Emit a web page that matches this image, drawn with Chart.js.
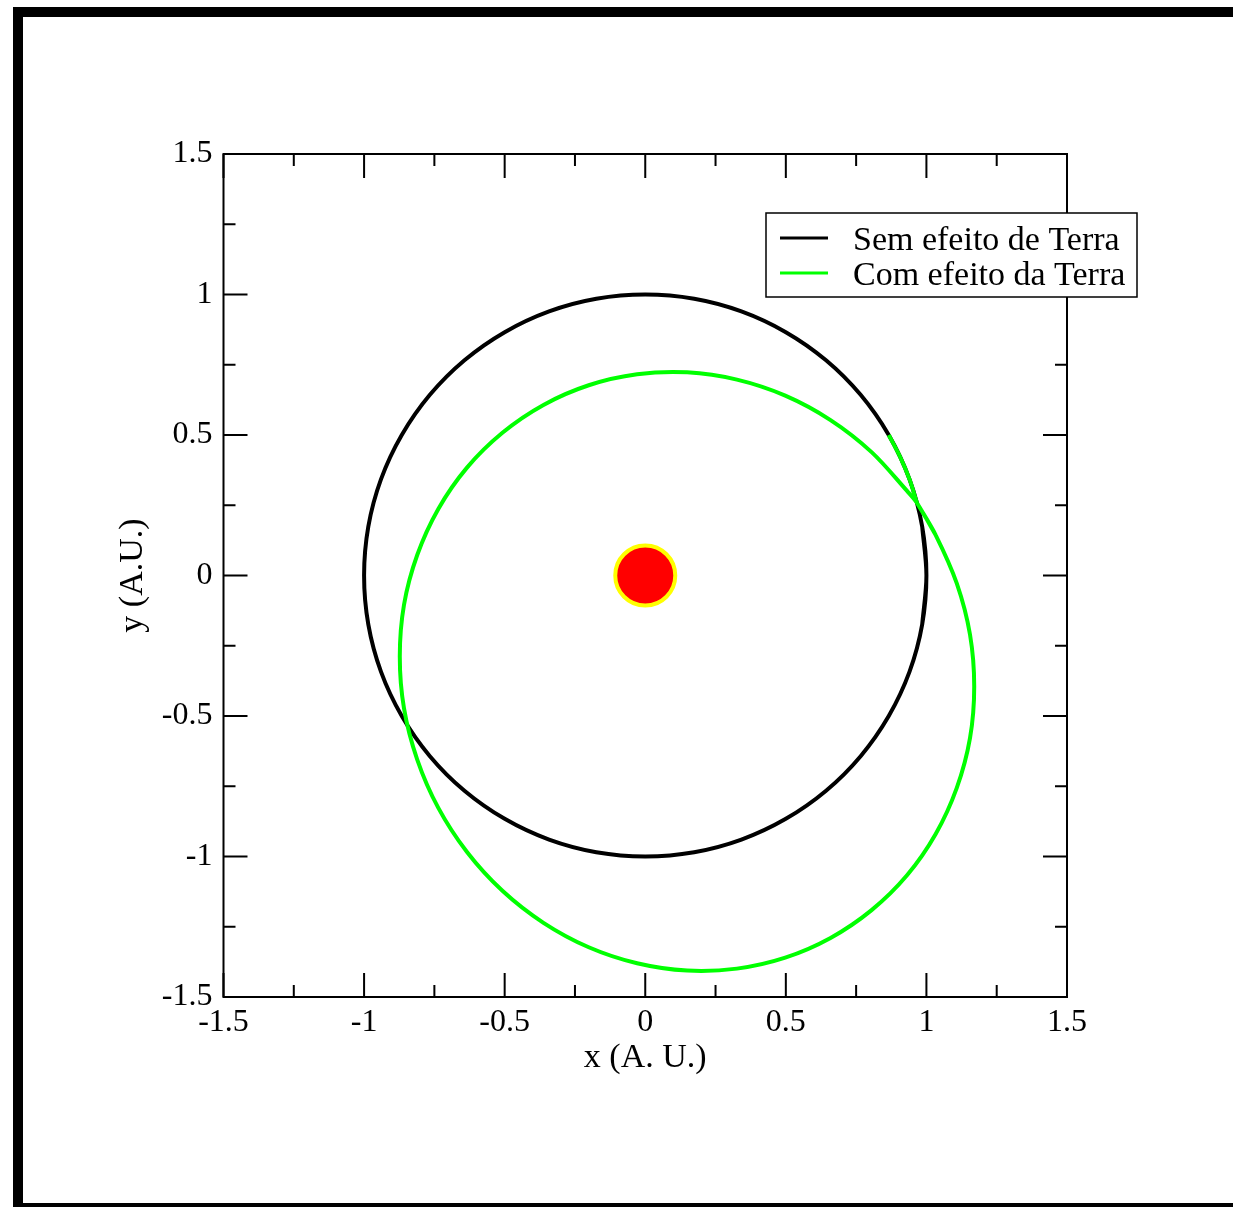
<!DOCTYPE html>
<html>
<head>
<meta charset="utf-8">
<script src="https://cdn.jsdelivr.net/npm/chart.js@4.4.0/dist/chart.umd.min.js"></script>
<style>
    html, body { margin: 0; padding: 0; background: #fff; overflow: hidden; }
    #frame { position: absolute; left: 13px; top: 7px; width: 1260px; height: 1206px; border: 10px solid #000; box-sizing: border-box; }
    #orbit-chart { position: absolute; left: 0; top: 0; }
</style>
</head>
<body>
<div id="frame"></div>
<canvas id="orbit-chart" width="1233" height="1207"></canvas>
<script>
// orbita sem efeito da Terra (circulo de raio 1 UA, um ponto a cada 10 graus, de 350 a 370 graus)
const semEfeitoX = [0.985, 1, 0.985, 0.940, 0.866, 0.766, 0.643, 0.5, 0.342, 0.174, 0, -0.174, -0.342, -0.5, -0.643, -0.766, -0.866, -0.940, -0.985,
    -1, -0.985, -0.940, -0.866, -0.766, -0.643, -0.5, -0.342, -0.174, 0, 0.174, 0.342, 0.5, 0.643, 0.766, 0.866, 0.940, 0.985, 1, 0.985];
const semEfeitoY = [-0.174, 0, 0.174, 0.342, 0.5, 0.643, 0.766, 0.866, 0.940, 0.985, 1, 0.985, 0.940, 0.866, 0.766, 0.643, 0.5, 0.342, 0.174,
    0, -0.174, -0.342, -0.5, -0.643, -0.766, -0.866, -0.940, -0.985, -1, -0.985, -0.940, -0.866, -0.766, -0.643, -0.5, -0.342, -0.174, 0, 0.174];

// orbita com efeito da Terra (comeca em 30 graus no circulo, depois elipse)
const comEfeitoX = [0.866, 0.906, 0.940, 0.966, 0.966, 1.033, 1.108, 1.155, 1.170, 1.155, 1.108, 1.033, 0.931, 0.805, 0.659, 0.498,
    0.326, 0.149, -0.029, -0.201, -0.362, -0.508, -0.634, -0.736, -0.811, -0.858, -0.873, -0.858, -0.811, -0.736, -0.634, -0.508,
    -0.362, -0.201, -0.029, 0.149, 0.326, 0.498, 0.659, 0.805, 0.931, 0.966, 1.033];
const comEfeitoY = [0.5, 0.423, 0.342, 0.259, 0.259, 0.144, -0.028, -0.210, -0.395, -0.579, -0.756, -0.920, -1.067, -1.191, -1.290, -1.360,
    -1.399, -1.406, -1.380, -1.323, -1.236, -1.122, -0.984, -0.827, -0.655, -0.473, -0.288, -0.104, 0.073, 0.237, 0.384, 0.508,
    0.607, 0.677, 0.716, 0.723, 0.697, 0.640, 0.553, 0.439, 0.301, 0.259, 0.144];

// Sol
const solX = [0];
const solY = [0];

const xTickLabels = ['-1.5', '-1', '-0.5', '0', '0.5', '1', '1.5'];
const yTickLabels = ['-1.5', '-1', '-0.5', '0', '0.5', '1', '1.5'];
const legendLabels = ['Sem efeito de Terra', 'Com efeito da Terra'];

const FONT = 'Liberation Serif, Times New Roman, serif';

const toPoints = (xs, ys) => xs.map((v, i) => ({ x: v, y: ys[i] }));

// moldura do grafico + marcas para dentro (maiores a cada 0.5, menores a cada 0.25)
const frameTicks = {
    id: 'frameTicks',
    afterDraw(chart) {
        const { ctx, chartArea: a, scales: { x, y } } = chart;
        ctx.save();
        ctx.strokeStyle = '#000';
        ctx.lineWidth = 2;
        ctx.strokeRect(a.left, a.top, a.right - a.left, a.bottom - a.top);
        ctx.beginPath();
        x.ticks.forEach((t, i) => {
            const px = x.getPixelForValue(t.value);
            ctx.moveTo(px, a.bottom); ctx.lineTo(px, a.bottom - 24);
            ctx.moveTo(px, a.top); ctx.lineTo(px, a.top + 24);
            if (i < x.ticks.length - 1) {
                const pm = x.getPixelForValue(t.value + 0.25);
                ctx.moveTo(pm, a.bottom); ctx.lineTo(pm, a.bottom - 12);
                ctx.moveTo(pm, a.top); ctx.lineTo(pm, a.top + 12);
            }
        });
        y.ticks.forEach((t, i) => {
            const py = y.getPixelForValue(t.value);
            ctx.moveTo(a.left, py); ctx.lineTo(a.left + 24, py);
            ctx.moveTo(a.right, py); ctx.lineTo(a.right - 24, py);
            if (i < y.ticks.length - 1) {
                const pm = y.getPixelForValue(t.value + 0.25);
                ctx.moveTo(a.left, pm); ctx.lineTo(a.left + 12, pm);
                ctx.moveTo(a.right, pm); ctx.lineTo(a.right - 12, pm);
            }
        });
        ctx.stroke();

        // legenda
        const items = chart.data.datasets.filter(d => legendLabels.includes(d.label));
        const bx = a.right - 301, by = a.top + 59;
        ctx.fillStyle = '#fff';
        ctx.fillRect(bx, by, 371, 84);
        ctx.lineWidth = 1.5;
        ctx.strokeRect(bx, by, 371, 84);
        ctx.font = '34px ' + FONT;
        ctx.textBaseline = 'alphabetic';
        ctx.textAlign = 'left';
        items.forEach((d, i) => {
            const ly = by + 25 + i * 35;
            ctx.strokeStyle = d.borderColor;
            ctx.lineWidth = 3;
            ctx.beginPath();
            ctx.moveTo(bx + 14, ly);
            ctx.lineTo(bx + 62, ly);
            ctx.stroke();
            ctx.fillStyle = '#000';
            ctx.fillText(d.label, bx + 87, ly + 12);
        });
        ctx.restore();
    }
};

const canvas = document.getElementById('orbit-chart');
new Chart(canvas, {
    type: 'scatter',
    data: {
        datasets: [{
            label: legendLabels[0],
            data: toPoints(semEfeitoX, semEfeitoY),
            showLine: true,
            tension: 0.33,
            borderColor: '#000000',
            borderWidth: 4,
            pointRadius: 0,
            order: 2
        }, {
            label: legendLabels[1],
            data: toPoints(comEfeitoX, comEfeitoY),
            showLine: true,
            tension: 0.33,
            borderColor: '#00ff00',
            borderWidth: 4,
            pointRadius: 0,
            order: 1
        }, {
            label: 'Sol',
            data: toPoints(solX, solY),
            showLine: false,
            pointRadius: 30,
            pointBackgroundColor: '#ff0000',
            pointBorderColor: '#ffff00',
            pointBorderWidth: 4,
            order: 0
        }]
    },
    options: {
        responsive: false,
        animation: false,
        layout: { padding: { left: 100, right: 166, top: 154, bottom: 120 } },
        plugins: {
            legend: { display: false },
            tooltip: { enabled: false }
        },
        scales: {
            x: {
                type: 'linear',
                min: -1.5,
                max: 1.5,
                grid: { display: false },
                border: { display: false },
                afterFit: (scale) => { scale.height = 90; },
                ticks: {
                    stepSize: 0.5,
                    padding: -2,
                    color: '#000',
                    font: { family: FONT, size: 32 },
                    maxRotation: 0,
                    autoSkip: false,
                    callback: (v, i) => xTickLabels[i]
                },
                title: {
                    display: true,
                    text: 'x (A. U.)',
                    color: '#000',
                    font: { family: FONT, size: 34 },
                    padding: { top: 0, bottom: 9 }
                }
            },
            y: {
                type: 'linear',
                min: -1.5,
                max: 1.5,
                grid: { display: false },
                border: { display: false },
                afterFit: (scale) => { scale.width = 123.5; },
                ticks: {
                    stepSize: 0.5,
                    padding: 3,
                    color: '#000',
                    font: { family: FONT, size: 32 },
                    autoSkip: false,
                    callback: (v, i) => yTickLabels[i]
                },
                title: {
                    display: true,
                    text: 'y (A.U.)',
                    color: '#000',
                    font: { family: FONT, size: 34 },
                    padding: { top: 13, bottom: 0 }
                }
            }
        }
    },
    plugins: [frameTicks]
});
</script>
</body>
</html>
